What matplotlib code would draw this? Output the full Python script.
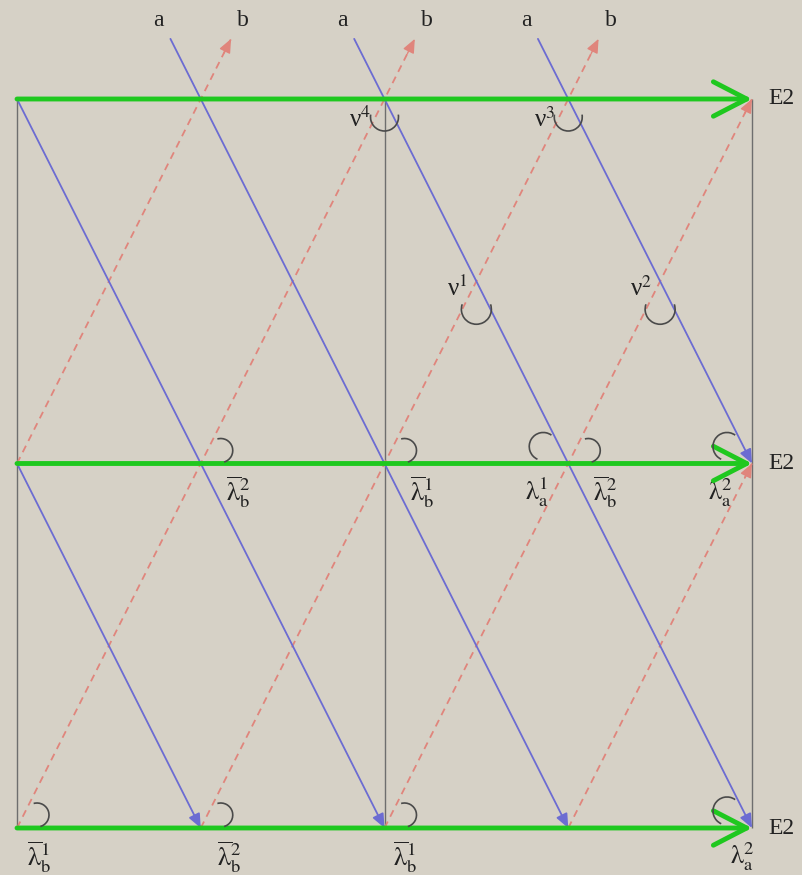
import matplotlib
matplotlib.use("Agg")
import matplotlib.pyplot as plt
from matplotlib.patches import Arc

plt.rcParams['mathtext.fontset'] = 'stix'
plt.rcParams['font.family'] = ['Liberation Serif', 'DejaVu Serif']

# grid: columns 0..4 (half cells), rows 0..2 (the three E2 levels)
ROWS = [0, 1, 2]
VLINE_COLS = [0, 2, 4]
ROW_LABEL = "E2"

# 'a' characteristics (solid, going down-right)
A_X0 = [0, 0, 0.835, 1.835, 2.835]
A_Y0 = [2, 1, 2.165, 2.165, 2.165]
A_X1 = [2, 1, 3, 4, 4]
A_Y1 = [0, 0, 0, 0, 1]
A_TOPS = [0.835, 1.835, 2.835]

# 'b' characteristics (dashed, going up-right)
B_X0 = [0, 0, 1, 2, 3]
B_Y0 = [0, 1, 0, 0, 0]
B_X1 = [2.165, 1.165, 3.165, 4, 4]
B_Y1 = [2.165, 2.165, 2.165, 2, 1]
B_TOPS = [1.165, 2.165, 3.165]

# angle marks at the nodes
ARC_B_NODES = [(0, 0), (1, 0), (2, 0), (1, 1), (2, 1), (3, 1)]   # between b and E2
ARC_A_NODES = [(3, 1), (4, 1), (4, 0)]                           # between a and E2
ARC_V_NODES = [(2, 2), (3, 2)]                                   # nu^4, nu^3
ARC_X_NODES = [(2.5, 1.5), (3.5, 1.5)]                           # nu^1, nu^2

# node labels
LB = r"$\overline{\mathrm{\lambda}}_{\mathrm{b}}^{%d}$"
LA = r"$\mathrm{\lambda}_{\mathrm{a}}^{%d}$"
LAM_ROW1_X = [1, 2, 3, 3, 4]
LAM_ROW1 = [LB % 2, LB % 1, LA % 1, LB % 2, LA % 2]
LAM_ROW1_DX = [37, 38, -31, 37, -32]
LAM_ROW0_X = [0, 1, 2, 4]
LAM_ROW0 = [LB % 1, LB % 2, LB % 1, LA % 2]
LAM_ROW0_DX = [22, 28, 21, -10]
NU_TOP = ["ν$^{4}$", "ν$^{3}$"]
NU_MID = ["ν$^{1}$", "ν$^{2}$"]

BG = '#d6d1c6'
GREEN = '#1fc81f'
BLUE = '#6c6cd2'
RED = '#e0857c'
GRAY = '#6e6e6e'
DARK = '#4a4a4a'
TXT = '#222222'

# pixel scale of one unit
SX, SY = 183.75, 364.5
X0PX, Y0PX = 17, 828

fig = plt.figure(figsize=(8.02, 8.75), dpi=100, facecolor=BG)
ax = fig.add_axes([0, 0, 1, 1])
ax.set_facecolor(BG)
ax.set_xlim(-X0PX / SX, (802 - X0PX) / SX)
ax.set_ylim(-(875 - Y0PX) / SY, Y0PX / SY)
ax.axis('off')

ax.vlines(VLINE_COLS, 0, 2, color=GRAY, lw=1.0, zorder=1)

# b lines: dashed with small head
for x0, y0, x1, y1 in zip(B_X0, B_Y0, B_X1, B_Y1):
    ax.plot([x0, x1], [y0, y1], color=RED, lw=1.3, ls=(0, (4, 3)), zorder=2)
    d = 0.04
    ax.annotate('', xy=(x1, y1), xytext=(x1 - d, y1 - d),
                arrowprops=dict(arrowstyle='-|>,head_length=0.7,head_width=0.3',
                                color=RED, lw=1.0, mutation_scale=12,
                                shrinkA=0, shrinkB=0), zorder=2)

# a lines
for x0, y0, x1, y1 in zip(A_X0, A_Y0, A_X1, A_Y1):
    ax.annotate('', xy=(x1, y1), xytext=(x0, y0),
                arrowprops=dict(arrowstyle='-|>,head_length=0.7,head_width=0.3',
                                color=BLUE, lw=1.3, mutation_scale=12,
                                shrinkA=0, shrinkB=0), zorder=3)

# E2 levels
for r in ROWS:
    ax.annotate('', xy=(4, r), xytext=(0, r),
                arrowprops=dict(arrowstyle='->,head_length=1.2,head_width=0.62',
                                color=GREEN, lw=3.5, mutation_scale=20,
                                shrinkA=0, shrinkB=0), zorder=4)
    ax.annotate(ROW_LABEL, xy=(4, r), xytext=(16, 0), textcoords='offset pixels',
                fontsize=17, va='center', ha='left', color=TXT)

for x in A_TOPS:
    ax.annotate('a', xy=(x, 2.165), xytext=(-12, 18), textcoords='offset pixels',
                fontsize=17, ha='center', va='center', color=TXT)
for x in B_TOPS:
    ax.annotate('b', xy=(x, 2.165), xytext=(12, 18), textcoords='offset pixels',
                fontsize=17, ha='center', va='center', color=TXT)


def arc(node, dx, dy, r, t1, t2):
    cx = node[0] + dx / SX
    cy = node[1] - dy / SY
    ax.add_patch(Arc((cx, cy), 2 * r / SX, 2 * r / SY, theta1=t1, theta2=t2,
                     color=DARK, lw=1.2, zorder=5))


for n in ARC_B_NODES:
    arc(n, 20, -13, 12, -60, 120)
for n in ARC_A_NODES:
    arc(n, -25, -17, 14, 35, 228)
for n in ARC_V_NODES:
    arc(n, 0, 18, 14, 175, 5)
for n in ARC_X_NODES:
    arc(n, 0, 28, 15, 170, 10)

for x, s, dx in zip(LAM_ROW1_X, LAM_ROW1, LAM_ROW1_DX):
    ax.annotate(s, xy=(x, 1), xytext=(dx, -29), textcoords='offset pixels',
                fontsize=19, ha='center', va='center', color=TXT)
for x, s, dx in zip(LAM_ROW0_X, LAM_ROW0, LAM_ROW0_DX):
    ax.annotate(s, xy=(x, 0), xytext=(dx, -29), textcoords='offset pixels',
                fontsize=19, ha='center', va='center', color=TXT)
for n, s in zip(ARC_V_NODES, NU_TOP):
    ax.annotate(s, xy=n, xytext=(-24, -20), textcoords='offset pixels',
                fontsize=18, ha='center', va='center', color=TXT)
for n, s in zip(ARC_X_NODES, NU_MID):
    ax.annotate(s, xy=n, xytext=(-19, -7), textcoords='offset pixels',
                fontsize=18, ha='center', va='center', color=TXT)

fig.savefig('out.png', dpi=100, facecolor=BG)
